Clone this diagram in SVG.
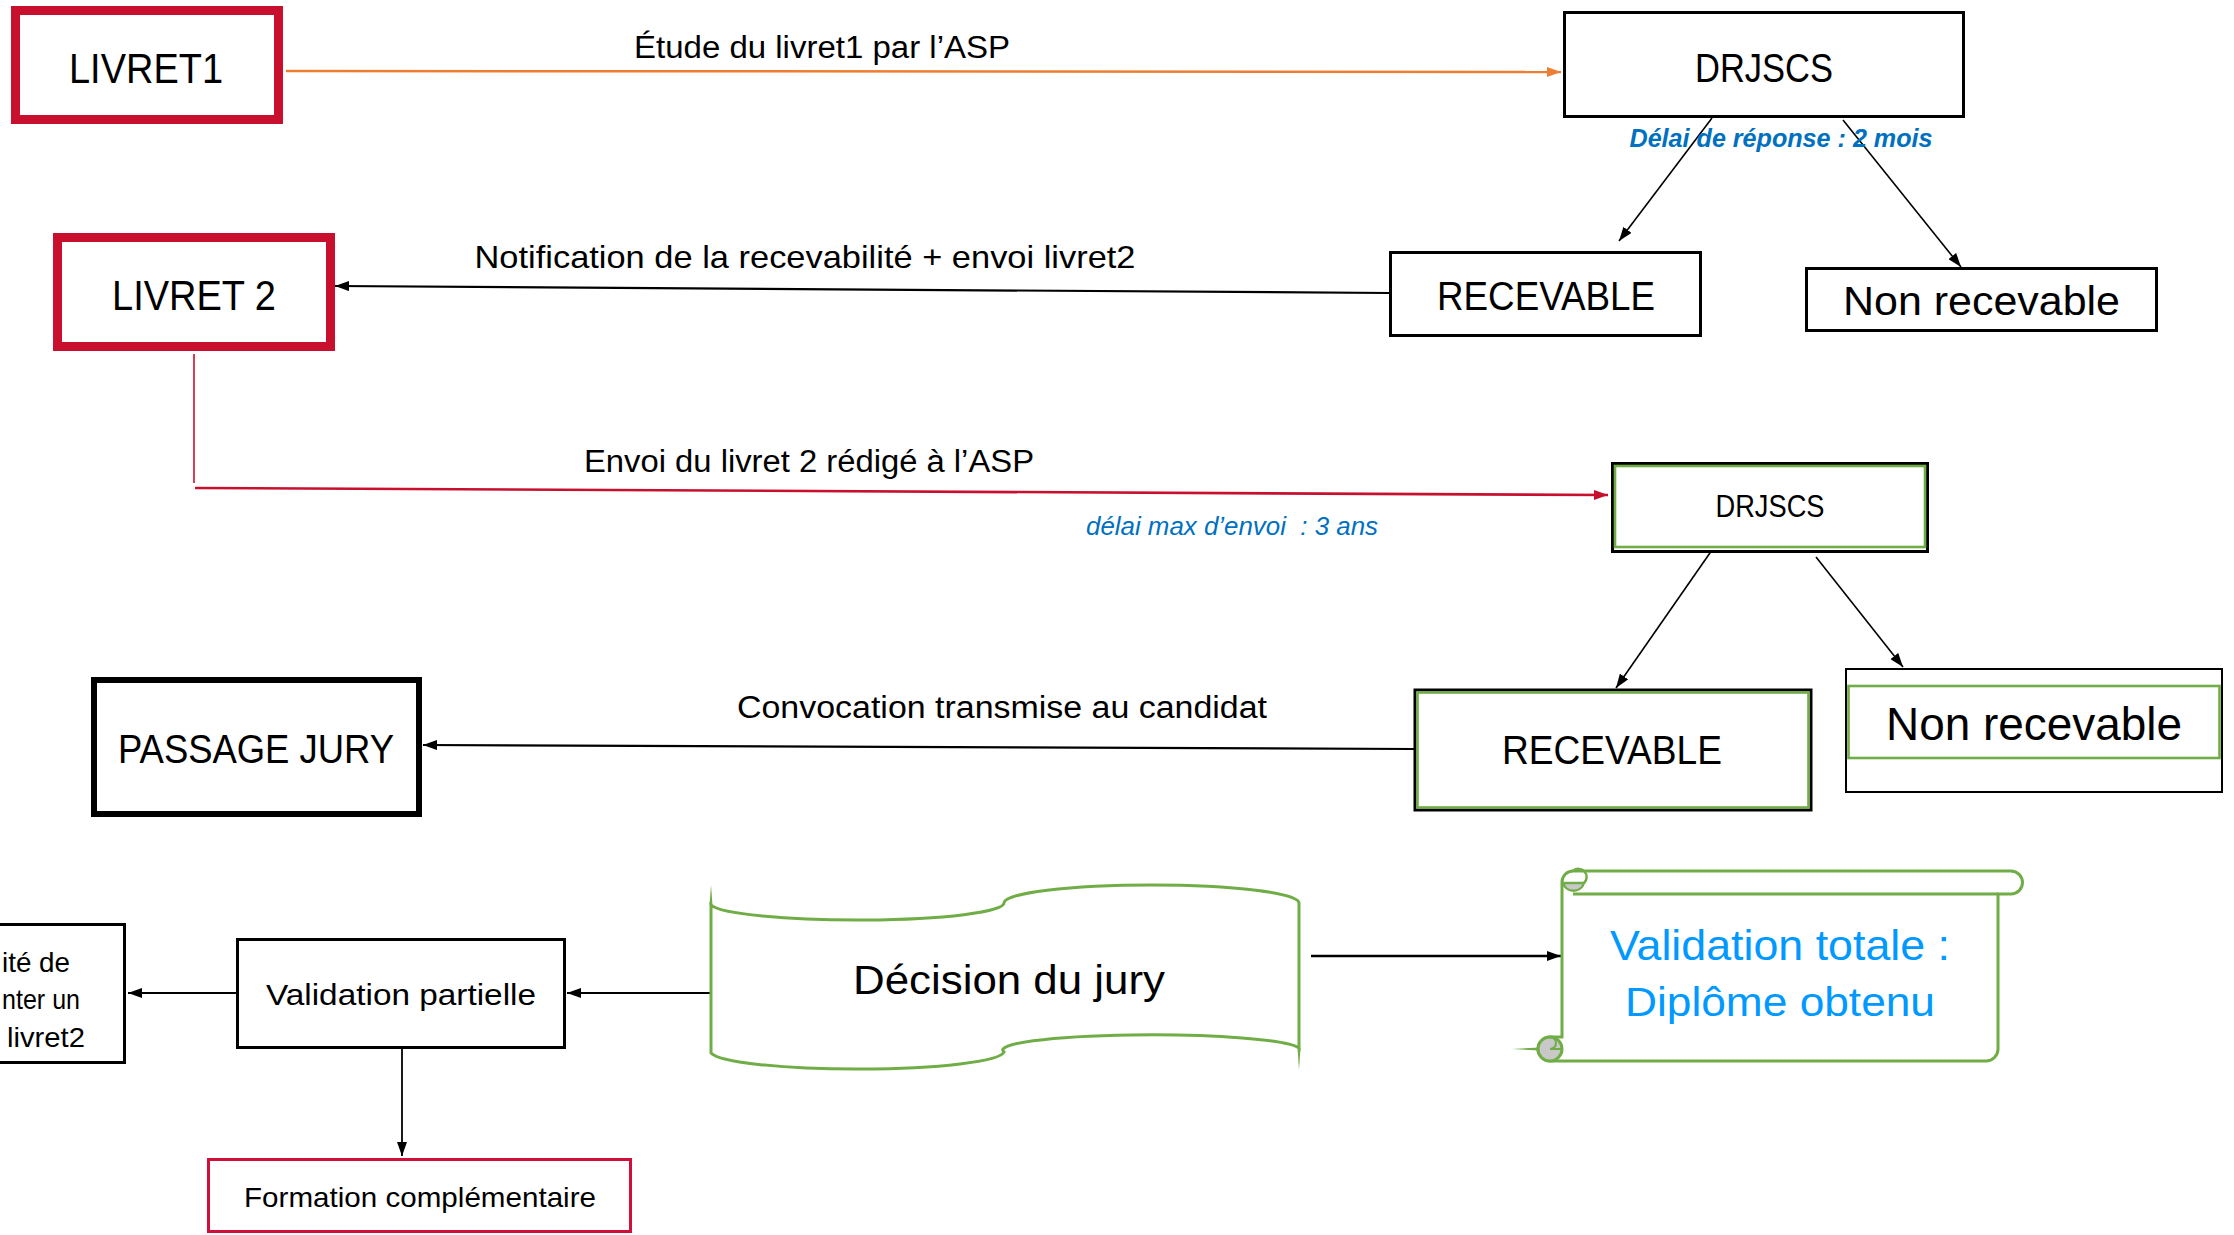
<svg xmlns="http://www.w3.org/2000/svg" width="2234" height="1235" viewBox="0 0 2234 1235">
<defs>
<style>
text{font-family:"Liberation Sans",Arial,sans-serif;fill:#000}
.c{text-anchor:middle}
.red{fill:#fff;stroke:#C8102E;stroke-width:9}
.blk{fill:#fff;stroke:#000;stroke-width:3}
.grn{fill:none;stroke:#70AD47;stroke-width:2.6}
.ln{fill:none;stroke:#000;stroke-width:1.6}
.blue{fill:#0070C0;font-style:italic}
.sky{fill:#0099FF}
</style>
<marker id="ab" markerUnits="userSpaceOnUse" markerWidth="14" markerHeight="10" refX="14" refY="5" orient="auto" viewBox="0 0 14 10"><path d="M0,0 L14,5 L0,10 z" fill="#000"/></marker>
<marker id="ao" markerUnits="userSpaceOnUse" markerWidth="14" markerHeight="10" refX="14" refY="5" orient="auto" viewBox="0 0 14 10"><path d="M0,0 L14,5 L0,10 z" fill="#ED7D31"/></marker>
<marker id="ar" markerUnits="userSpaceOnUse" markerWidth="14" markerHeight="10" refX="14" refY="5" orient="auto" viewBox="0 0 14 10"><path d="M0,0 L14,5 L0,10 z" fill="#C8102E"/></marker>
</defs>
<rect width="2234" height="1235" fill="#fff"/>

<g id="connectors">
<line x1="286" y1="71" x2="1561" y2="72" stroke="#ED7D31" stroke-width="2.5" marker-end="url(#ao)"/>
<text x="822" y="58" class="c" font-size="31" textLength="376" lengthAdjust="spacingAndGlyphs">Étude du livret1 par l’ASP</text>
<line class="ln" x1="1712" y1="118" x2="1619" y2="241" marker-end="url(#ab)"/>
<line class="ln" x1="1843" y1="120" x2="1961" y2="267" marker-end="url(#ab)"/>
<text x="1781" y="147" class="c blue" font-weight="bold" font-size="26" textLength="303" lengthAdjust="spacingAndGlyphs">Délai de réponse : 2 mois</text>
<line x1="1389" y1="293" x2="335" y2="286" stroke="#000" stroke-width="2.2" marker-end="url(#ab)"/>
<text x="805" y="268" class="c" font-size="32" textLength="661" lengthAdjust="spacingAndGlyphs">Notification de la recevabilité + envoi livret2</text>
<line x1="194" y1="354" x2="194" y2="483" stroke="#C8102E" stroke-width="1.6"/>
<line x1="195" y1="488" x2="1608" y2="495" stroke="#C8102E" stroke-width="2.6" marker-end="url(#ar)"/>
<text x="809" y="472" class="c" font-size="31" textLength="450" lengthAdjust="spacingAndGlyphs">Envoi du livret 2 rédigé à l’ASP</text>
<text x="1232" y="535" class="c blue" font-size="25" textLength="292" lengthAdjust="spacingAndGlyphs" xml:space="preserve">délai max d’envoi  : 3 ans</text>
<line class="ln" x1="1712" y1="550" x2="1616" y2="688" marker-end="url(#ab)"/>
<line class="ln" x1="1816" y1="557" x2="1903" y2="667" marker-end="url(#ab)"/>
<line x1="1414" y1="749" x2="423" y2="745" stroke="#000" stroke-width="2.2" marker-end="url(#ab)"/>
<text x="1002" y="718" class="c" font-size="31" textLength="530" lengthAdjust="spacingAndGlyphs">Convocation transmise au candidat</text>
<line x1="711" y1="993" x2="567" y2="993" stroke="#000" stroke-width="2.2" marker-end="url(#ab)"/>
<line x1="236" y1="993" x2="128" y2="993" stroke="#000" stroke-width="2.2" marker-end="url(#ab)"/>
<line x1="402" y1="1049" x2="402" y2="1156" stroke="#000" stroke-width="1.8" marker-end="url(#ab)"/>
<line x1="1311" y1="956" x2="1561" y2="956" stroke="#000" stroke-width="2.6" marker-end="url(#ab)"/>
</g>

<g id="livret1">
<rect class="red" x="15.5" y="10.5" width="263" height="109"/>
<text x="146" y="83" class="c" font-size="42" textLength="154" lengthAdjust="spacingAndGlyphs">LIVRET1</text>
</g>

<g id="drjscs1">
<rect class="blk" x="1564.5" y="12.5" width="399" height="104"/>
<text x="1764" y="82" class="c" font-size="40" textLength="138" lengthAdjust="spacingAndGlyphs">DRJSCS</text>
</g>

<g id="recevable1">
<rect class="blk" x="1390.5" y="252.5" width="310" height="83"/>
<text x="1546" y="310" class="c" font-size="40" textLength="218" lengthAdjust="spacingAndGlyphs">RECEVABLE</text>
</g>

<g id="nonrecevable1">
<rect class="blk" x="1806.5" y="268.5" width="350" height="62"/>
<text x="1981.5" y="315" class="c" font-size="40" textLength="277" lengthAdjust="spacingAndGlyphs">Non recevable</text>
</g>

<g id="livret2">
<rect class="red" x="57.5" y="237.5" width="273" height="109"/>
<text x="194" y="310" class="c" font-size="42" textLength="164" lengthAdjust="spacingAndGlyphs">LIVRET 2</text>
</g>

<g id="drjscs2">
<rect class="blk" x="1612.5" y="463.5" width="315" height="88"/>
<rect class="grn" x="1615" y="466" width="310" height="81"/>
<text x="1770" y="517" class="c" font-size="31" textLength="109" lengthAdjust="spacingAndGlyphs">DRJSCS</text>
</g>

<g id="passagejury">
<rect x="94" y="680" width="325" height="134" fill="#fff" stroke="#000" stroke-width="6"/>
<text x="256" y="763" class="c" font-size="40" textLength="276" lengthAdjust="spacingAndGlyphs">PASSAGE JURY</text>
</g>

<g id="recevable2">
<rect class="blk" x="1415" y="690" width="396" height="120" stroke-width="2.5"/>
<rect class="grn" x="1417.5" y="692.5" width="391" height="115"/>
<text x="1612" y="764" class="c" font-size="40" textLength="220" lengthAdjust="spacingAndGlyphs">RECEVABLE</text>
</g>

<g id="nonrecevable2">
<rect x="1846" y="669" width="376" height="123" fill="#fff" stroke="#000" stroke-width="2"/>
<rect class="grn" x="1848.5" y="686" width="371" height="72" stroke-width="3"/>
<text x="2034" y="740" class="c" font-size="46" textLength="296" lengthAdjust="spacingAndGlyphs">Non recevable</text>
</g>

<g id="possibilite">
<rect class="blk" x="-10" y="924.5" width="134.5" height="138"/>
<text x="2" y="972" font-size="28" textLength="68" lengthAdjust="spacingAndGlyphs">ité de</text>
<text x="2" y="1009" font-size="28" textLength="78" lengthAdjust="spacingAndGlyphs">nter un</text>
<text x="7" y="1047" font-size="28" textLength="78" lengthAdjust="spacingAndGlyphs">livret2</text>
</g>

<g id="validationpartielle">
<rect class="blk" x="237.5" y="939.5" width="327" height="108"/>
<text x="401" y="1005" class="c" font-size="30" textLength="270" lengthAdjust="spacingAndGlyphs">Validation partielle</text>
</g>

<g id="formation">
<rect x="208.5" y="1159.5" width="422" height="72" fill="#fff" stroke="#D0103A" stroke-width="3"/>
<text x="420" y="1207" class="c" font-size="28" textLength="352" lengthAdjust="spacingAndGlyphs">Formation complémentaire</text>
</g>

<g id="decision">
<path d="M711,905 A147,17 0 0 0 1004,903 A147,18 0 0 1 1299,903 L1299,1048 A147,15 0 0 0 1004,1052 A147,18 0 0 1 711,1053 Z" fill="#fff" stroke="#70AD47" stroke-width="3"/>
<polygon points="709.5,905 712.5,905 711,885" fill="#70AD47"/>
<polygon points="1297.5,1048 1300.5,1048 1299,1070" fill="#70AD47"/>
<text x="1009" y="994" class="c" font-size="40" textLength="312" lengthAdjust="spacingAndGlyphs">Décision du jury</text>
</g>

<g id="validationtotale">
<polygon points="1512,1049 1540,1047.5 1540,1050.5" fill="#70AD47"/>
<path d="M1562,882 A11,11 0 0 1 1573,871 L2011,871 A11.5,11.5 0 0 1 2011,894 L1998,894 L1998,1049 A12,12 0 0 1 1986,1061 L1550,1061 A12,12 0 0 1 1550,1037 L1562,1037 Z" fill="#fff" stroke="#70AD47" stroke-width="3"/>
<path d="M1573,894 L1998,894" stroke="#70AD47" stroke-width="3" fill="none"/>
<path d="M1563,883 A11,11 0 0 0 1584,883 Z" fill="#C8C8C8" stroke="#70AD47" stroke-width="2.5"/>
<path d="M1573,871 A6,6 0 0 1 1584,883" fill="none" stroke="#70AD47" stroke-width="2.5"/>
<circle cx="1550" cy="1049" r="12" fill="#C8C8C8" stroke="#70AD47" stroke-width="3"/>
<path d="M1550,1037 A6,6 0 0 1 1550,1049 L1562,1049" fill="none" stroke="#70AD47" stroke-width="2"/>
<text x="1780" y="960" class="c sky" font-size="42" textLength="340" lengthAdjust="spacingAndGlyphs">Validation totale :</text>
<text x="1780" y="1016" class="c sky" font-size="40" textLength="310" lengthAdjust="spacingAndGlyphs">Diplôme obtenu</text>
</g>
</svg>
